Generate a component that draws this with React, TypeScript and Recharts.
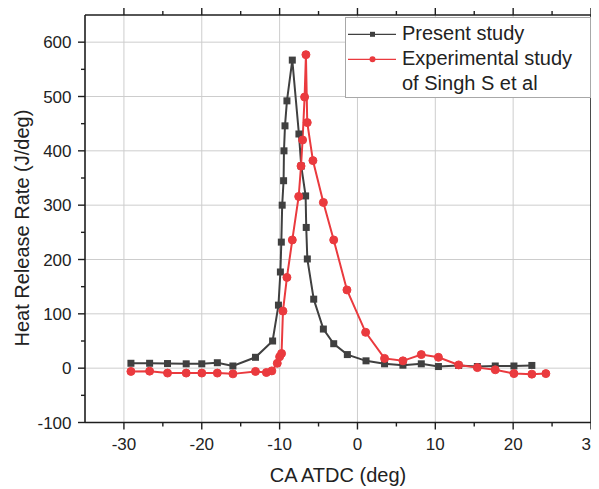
import React from 'react';
import { LineChart, Line, XAxis, YAxis, CartesianGrid, Legend, Label } from 'recharts';

// ---------- data ----------
const presentX = [-29.1, -26.7, -24.4, -22.0, -20.0, -18.0, -16.0, -13.1, -10.9, -10.15, -9.9, -9.78, -9.67, -9.49, -9.44, -9.31, -9.06, -8.37, -7.52, -7.22, -6.66, -6.58, -6.44, -5.62, -4.38, -3.05, -1.3, 1.1, 3.48, 5.84, 8.2, 10.4, 13.0, 15.4, 17.7, 20.1, 22.4];
const presentY = [9, 9, 8.5, 8, 8, 10, 4, 20, 50, 116, 177, 232, 300, 345, 400, 446, 492, 567, 431, 372, 317, 259, 201, 127, 72, 45, 25, 13.5, 8, 5.5, 8, 3, 5, 3, 4, 4, 5];

const expX = [-29.1, -26.7, -24.4, -22.0, -20.0, -18.0, -16.0, -13.1, -11.7, -11.0, -10.3, -10.0, -9.75, -9.57, -9.06, -8.37, -7.55, -7.25, -7.05, -6.79, -6.62, -6.45, -5.72, -4.38, -3.05, -1.35, 1.05, 3.48, 5.84, 8.2, 10.4, 13.0, 15.4, 17.7, 20.1, 22.4, 24.2];
const expY = [-6, -5.5, -9, -9, -9, -9, -10.5, -6, -8, -5, 9, 21, 27, 105, 167, 236, 316, 372, 420, 499, 577, 452, 382, 305, 236, 144, 66, 18, 13.5, 25, 20, 6, 1, -3, -10, -11, -10];

const seriesNames = ['Present study', 'Experimental study\nof Singh S et al'];

const xMajorTicks = [-30, -20, -10, 0, 10, 20, 30];
const xMinorTicks = [-25, -15, -5, 5, 15, 25];
const yMajorTicks = [-100, 0, 100, 200, 300, 400, 500, 600];
const yMinorTicks = [-50, 50, 150, 250, 350, 450, 550];
const xGrid = [-30, -20, -10, 0, 10, 20];
const yGrid = [0, 100, 200, 300, 400, 500, 600];
const xDomain = [-35, 30];
const yDomain = [-100, 650];
const xTitle = 'CA ATDC (deg)';
const yTitle = 'Heat Release Rate (J/deg)';

// ---------- style ----------
const FONT = '"Liberation Sans", Arial, Helvetica, sans-serif';
const DARK = '#404040';
const RED = '#ea3a3e';
const AXIS = '#1e1e1e';
const MAJOR = 7;
const MINOR = 4;

const xAll = [...xMajorTicks, ...xMinorTicks].sort((a, b) => a - b);
const yAll = [...yMajorTicks, ...yMinorTicks].sort((a, b) => a - b);

const axisLine = { stroke: AXIS, strokeWidth: 1.6 };

const makeTick = (orient: string, majors: number[], labels: boolean) => (props: any) => {
  const { x, y, payload } = props;
  const v = payload?.value;
  const major = majors.includes(v);
  const len = major ? MAJOR : MINOR;
  let line: any = null;
  let text: any = null;
  if (orient === 'bottom') {
    line = <line x1={x} x2={x} y1={y} y2={y + len} stroke={AXIS} strokeWidth={1.4} />;
    if (labels && major)
      text = (
        <text x={x} y={y + 15.5} dy="0.71em" textAnchor="middle" fontFamily={FONT} fontSize={17} fill="#222">
          {v}
        </text>
      );
  } else if (orient === 'top') {
    line = <line x1={x} x2={x} y1={y} y2={y - len} stroke={AXIS} strokeWidth={1.4} />;
  } else if (orient === 'left') {
    line = <line x1={x} x2={x - len} y1={y} y2={y} stroke={AXIS} strokeWidth={1.4} />;
    if (labels && major)
      text = (
        <text x={x - 13.5} y={y} dy="0.355em" textAnchor="end" fontFamily={FONT} fontSize={17} fill="#222">
          {v}
        </text>
      );
  } else {
    line = <line x1={x} x2={x + len} y1={y} y2={y} stroke={AXIS} strokeWidth={1.4} />;
  }
  return (
    <g>
      {line}
      {text}
    </g>
  );
};

const BottomTick = makeTick('bottom', xMajorTicks, true);
const TopTick = makeTick('top', xMajorTicks, false);
const LeftTick = makeTick('left', yMajorTicks, true);
const RightTick = makeTick('right', yMajorTicks, false);

const XTitle = (props: any) => {
  const vb = props.viewBox || { x: 77, y: 414.5, width: 506, height: 66.5 };
  return (
    <text x={vb.x + vb.width / 2} y={vb.y + 59.5} textAnchor="middle" fontFamily={FONT} fontSize={20} fill="#222">
      {xTitle}
    </text>
  );
};

const YTitle = (props: any) => {
  const vb = props.viewBox || { x: 0, y: 7, width: 77, height: 407.5 };
  const cx = vb.x + 21.3;
  const cy = vb.y + vb.height / 2 + 9.3;
  return (
    <text x={cx} y={cy} transform={`rotate(-90 ${cx} ${cy})`} textAnchor="middle" fontFamily={FONT} fontSize={20} fill="#222">
      {yTitle}
    </text>
  );
};

const SquareDot = (props: any) => {
  const { cx, cy, index } = props;
  if (cx == null || cy == null) return <g key={`s${index}`} />;
  return <rect key={`s${index}`} x={cx - 3.5} y={cy - 3.5} width={7} height={7} fill={DARK} />;
};

const LegendBox = (props: any) => {
  const payload = [...(props.payload || [])].sort(
    (a: any, b: any) => seriesNames.indexOf(a.value) - seriesNames.indexOf(b.value)
  );
  const rows = [16.3, 41.3];
  return (
    <div
      style={{
        width: 246,
        height: 81,
        boxSizing: 'border-box',
        border: '1px solid #a8a8a8',
        background: '#fff',
        position: 'relative',
        fontFamily: FONT,
        fontSize: 20,
        color: '#222',
      }}
    >
      <svg width={56} height={81} style={{ position: 'absolute', left: 0, top: 0 }}>
        {payload.map((p: any, i: number) => (
          <g key={i}>
            <line x1={2} x2={50} y1={rows[i]} y2={rows[i]} stroke={p.color} strokeWidth={1.3} />
            {i === 0 ? (
              <rect x={24} y={rows[i] - 2.5} width={5} height={5} fill={p.color} />
            ) : (
              <circle cx={26.5} cy={rows[i]} r={3} fill={p.color} />
            )}
          </g>
        ))}
      </svg>
      <div style={{ position: 'absolute', left: 56, top: 3, lineHeight: '25px', whiteSpace: 'pre-line' }}>
        {payload.map((p: any, i: number) => (
          <div key={i}>{p.value}</div>
        ))}
      </div>
    </div>
  );
};

export default function App() {
  const present = presentX.map((x, i) => ({ x, y: presentY[i] }));
  const exp = expX.map((x, i) => ({ x, y: expY[i] }));
  return (
    <div style={{ width: 591, height: 481 }}>
      <LineChart width={591} height={481} margin={{ top: 0, right: 0, bottom: 0, left: 0 }}>
        <CartesianGrid
          xAxisId="b"
          yAxisId="l"
          stroke="#cdcdcd"
          strokeWidth={1}
          verticalValues={xGrid}
          horizontalValues={yGrid}
        />
        <XAxis
          xAxisId="b"
          type="number"
          dataKey="x"
          domain={xDomain}
          ticks={xAll}
          interval={0}
          orientation="bottom"
          height={66.5}
          tickSize={0}
          tickMargin={0}
          tickLine={false}
          tick={BottomTick}
          axisLine={axisLine}
          allowDataOverflow
        >
          <Label content={XTitle} />
        </XAxis>
        <XAxis
          xAxisId="t"
          type="number"
          dataKey="x"
          domain={xDomain}
          ticks={xAll}
          interval={0}
          orientation="top"
          height={7}
          tickSize={0}
          tickMargin={0}
          tickLine={false}
          tick={TopTick}
          axisLine={axisLine}
          allowDataOverflow
        />
        <YAxis
          yAxisId="l"
          type="number"
          domain={yDomain}
          ticks={yAll}
          interval={0}
          orientation="left"
          width={77}
          tickSize={0}
          tickMargin={0}
          tickLine={false}
          tick={LeftTick}
          axisLine={axisLine}
          allowDataOverflow
        >
          <Label content={YTitle} />
        </YAxis>
        <YAxis
          yAxisId="r"
          type="number"
          domain={yDomain}
          ticks={yAll}
          interval={0}
          orientation="right"
          width={8}
          tickSize={0}
          tickMargin={0}
          tickLine={false}
          tick={RightTick}
          axisLine={axisLine}
          allowDataOverflow
        />
        <Line
          xAxisId="b"
          yAxisId="l"
          data={present}
          dataKey="y"
          name={seriesNames[0]}
          type="linear"
          stroke={DARK}
          strokeWidth={2}
          dot={SquareDot}
          activeDot={false}
          isAnimationActive={false}
        />
        <Line
          xAxisId="b"
          yAxisId="l"
          data={exp}
          dataKey="y"
          name={seriesNames[1]}
          type="linear"
          stroke={RED}
          strokeWidth={2}
          dot={{ r: 4, fill: RED, stroke: RED, strokeWidth: 1 }}
          activeDot={false}
          isAnimationActive={false}
        />
        <Legend
          layout="horizontal"
          verticalAlign="middle"
          align="center"
          content={LegendBox}
          wrapperStyle={{ left: 337, top: 9, width: 246, height: 81 }}
        />
      </LineChart>
    </div>
  );
}
